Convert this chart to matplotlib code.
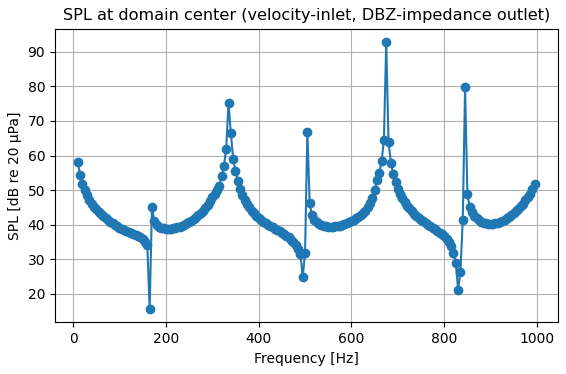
import numpy as np
import matplotlib
matplotlib.use("Agg")
import matplotlib.pyplot as plt

# frequency grid (Hz), 5 Hz steps
freq = np.arange(10, 1000, 5)

# SPL at domain center (dB re 20 uPa)
spl = [
    58.0, 54.5, 51.9, 50.0, 48.5, 47.2, 46.1, 45.2, 44.4, 43.7,
    43.2, 42.6, 42.0, 41.4, 40.9, 40.4, 39.9, 39.5, 39.1, 38.8,
    38.5, 38.2, 37.9, 37.6, 37.3, 37.0, 36.7, 36.3, 35.8, 35.1,
    34.0, 15.6, 45.2, 41.0, 39.9, 39.4, 39.1, 38.9, 38.8, 38.8,
    38.8, 38.9, 39.0, 39.2, 39.4, 39.7, 40.0, 40.4, 40.8, 41.2,
    41.7, 42.2, 42.8, 43.5, 44.1, 44.8, 45.7, 46.9, 48.0, 49.0,
    50.0, 51.2, 54.0, 56.9, 62.0, 75.3, 66.6, 59.1, 55.4, 52.7,
    50.3, 48.6, 47.2, 46.0, 45.0, 44.1, 43.3, 42.6, 42.0, 41.4,
    40.9, 40.4, 40.0, 39.6, 39.2, 38.8, 38.5, 38.1, 37.7, 37.3,
    36.8, 36.3, 35.7, 35.0, 34.1, 33.0, 31.6, 24.8, 31.8, 66.8,
    46.2, 42.7, 41.5, 40.7, 40.2, 39.9, 39.6, 39.5, 39.4, 39.4,
    39.4, 39.5, 39.6, 39.7, 39.9, 40.1, 40.4, 40.7, 41.0, 41.4,
    41.8, 42.3, 42.8, 43.4, 44.0, 45.0, 46.2, 47.8, 50.0, 52.8,
    55.0, 58.3, 64.4, 92.8, 64.0, 57.9, 54.8, 52.3, 50.3, 48.8,
    47.6, 46.5, 45.5, 44.7, 43.9, 43.2, 42.6, 42.0, 41.5, 41.0,
    40.5, 40.0, 39.6, 39.1, 38.7, 38.2, 37.7, 37.2, 36.7, 35.9,
    35.0, 33.8, 31.8, 29.0, 21.2, 26.4, 41.4, 79.7, 48.8, 45.1,
    43.6, 42.6, 41.9, 41.3, 40.9, 40.6, 40.4, 40.3, 40.3, 40.3,
    40.4, 40.6, 40.8, 41.1, 41.4, 41.8, 42.3, 42.8, 43.4, 44.0,
    44.6, 45.3, 46.1, 47.0, 47.9, 49.0, 50.3, 51.9,
]

fig = plt.figure(figsize=(5.66, 3.74), dpi=100)
ax = fig.add_subplot(111)
fig.subplots_adjust(left=0.097, right=0.985, bottom=0.138, top=0.923)

ax.plot(freq, spl, marker="o")
ax.set_title("SPL at domain center (velocity-inlet, DBZ-impedance outlet)", fontsize=11.6)
ax.set_xlabel("Frequency [Hz]")
ax.set_ylabel("SPL [dB re 20 µPa]")
ax.grid(True)

fig.savefig("out.png", dpi=100)
